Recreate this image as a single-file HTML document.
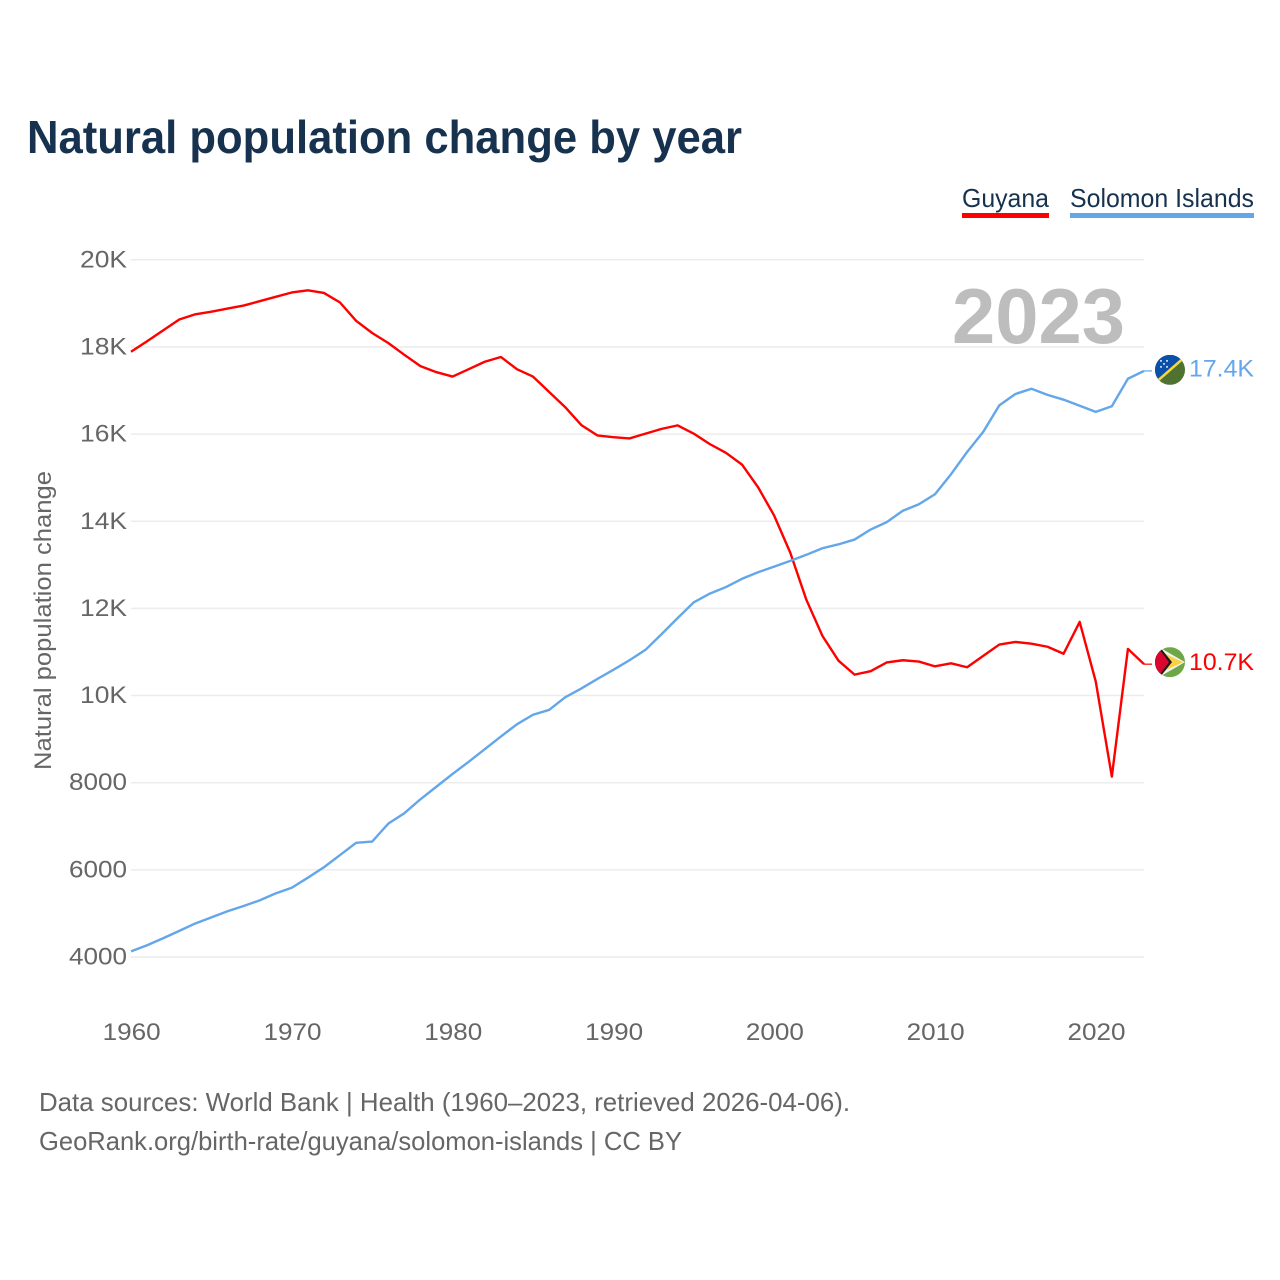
<!DOCTYPE html>
<html lang="en">
<head>
<meta charset="utf-8">
<title>Natural population change by year</title>
<style>
html,body{margin:0;padding:0;background:#fff;width:1280px;height:1280px;overflow:hidden}
svg{display:block}
text{font-family:"Liberation Sans",sans-serif}
</style>
</head>
<body>
<svg id="chart" xmlns="http://www.w3.org/2000/svg" width="1280" height="1280" viewBox="0 0 1280 1280">
  <defs>
    <clipPath id="flag-clip"><circle cx="0" cy="0" r="15"/></clipPath>
  </defs>
  <rect x="0" y="0" width="1280" height="1280" fill="#fff"/>
  <text x="27" y="153" font-size="46" font-weight="700" fill="#17324f" textLength="715" lengthAdjust="spacingAndGlyphs">Natural population change by year</text>

  <g>
    <g>
      <text x="962" y="207" font-size="26" fill="#17324f" textLength="87" lengthAdjust="spacingAndGlyphs">Guyana</text>
      <rect x="962" y="213" width="87" height="5" fill="#ff0000"/>
    </g>
    <g>
      <text x="1070" y="207" font-size="26" fill="#17324f" textLength="184" lengthAdjust="spacingAndGlyphs">Solomon Islands</text>
      <rect x="1070" y="213" width="184" height="5" fill="#63a6ea"/>
    </g>
  </g>

  <g id="grid"></g>
  <g id="y-axis"></g>
  <g id="x-axis"></g>

  <text transform="translate(51 770) rotate(-90)" x="0" y="0" font-size="24" fill="#666" textLength="299" lengthAdjust="spacingAndGlyphs">Natural population change</text>
  <text x="952" y="343" font-size="78" font-weight="700" fill="#bdbdbd" textLength="173" lengthAdjust="spacingAndGlyphs">2023</text>

  <g id="series"></g>

  <g id="flag-solomon">
    <g clip-path="url(#flag-clip)">
      <rect x="-15" y="-15" width="30" height="30" fill="#4f7230"/>
      <polygon points="-15,-15 15,-15 -15,15" fill="#0b50a8"/>
      <line x1="-16" y1="14" x2="16" y2="-14" stroke="#f5d63d" stroke-width="2.6"/>
      <circle cx="-9" cy="-9" r="1" fill="#dfe8f5"/>
      <circle cx="-3" cy="-9" r="1" fill="#dfe8f5"/>
      <circle cx="-6" cy="-6" r="1" fill="#dfe8f5"/>
      <circle cx="-9" cy="-3" r="1" fill="#dfe8f5"/>
      <circle cx="-3" cy="-3" r="1" fill="#dfe8f5"/>
    </g>
  </g>
  <g id="flag-guyana">
    <g clip-path="url(#flag-clip)">
      <rect x="-15" y="-15" width="30" height="30" fill="#6ea746"/>
      <polygon points="-15,-15 -11,-15 15,0 -11,15 -15,15" fill="#f2f2ee"/>
      <polygon points="-15,-13 13,0 -15,13" fill="#fbd044"/>
      <polygon points="-15,-15 -10,-15 2,0 -10,15 -15,15" fill="#1a1a1a"/>
      <polygon points="-15,-12 -10,-12 -1,0 -10,12 -15,12" fill="#d9072f"/>
    </g>
  </g>

  <g>
    <text x="39" y="1111" font-size="26" fill="#666" textLength="811" lengthAdjust="spacingAndGlyphs">Data sources: World Bank | Health (1960–2023, retrieved 2026-04-06).</text>
    <text x="39" y="1150" font-size="26" fill="#666" textLength="643" lengthAdjust="spacingAndGlyphs">GeoRank.org/birth-rate/guyana/solomon-islands | CC BY</text>
  </g>
</svg>

<script>
var years = [1960,1961,1962,1963,1964,1965,1966,1967,1968,1969,1970,1971,1972,1973,1974,1975,1976,1977,1978,1979,1980,1981,1982,1983,1984,1985,1986,1987,1988,1989,1990,1991,1992,1993,1994,1995,1996,1997,1998,1999,2000,2001,2002,2003,2004,2005,2006,2007,2008,2009,2010,2011,2012,2013,2014,2015,2016,2017,2018,2019,2020,2021,2022,2023];
var guyanaValues = [17890,18130,18380,18630,18750,18810,18880,18950,19050,19150,19250,19300,19240,19020,18600,18320,18090,17820,17560,17420,17320,17490,17660,17770,17490,17320,16970,16620,16210,15970,15930,15900,16010,16120,16200,16010,15770,15570,15300,14780,14130,13280,12200,11370,10800,10480,10560,10760,10810,10780,10670,10740,10650,10910,11170,11230,11190,11120,10960,11690,10320,8140,11070,10720];
var solomonValues = [4130,4270,4430,4600,4770,4910,5050,5170,5300,5460,5590,5820,6060,6340,6620,6650,7060,7300,7620,7910,8200,8480,8770,9060,9340,9560,9670,9960,10160,10380,10590,10810,11050,11410,11780,12140,12340,12490,12680,12830,12960,13090,13230,13380,13470,13580,13810,13980,14240,14390,14620,15080,15590,16050,16660,16920,17040,16900,16790,16650,16510,16640,17270,17450];
var yTickValues = [4000,6000,8000,10000,12000,14000,16000,18000,20000];
var yTickLabels = ["4000","6000","8000","10K","12K","14K","16K","18K","20K"];
var xTickValues = [1960,1970,1980,1990,2000,2010,2020];

var NS = "http://www.w3.org/2000/svg";
function xScale(year) { return 131 + (year - 1960) * (1144 - 131) / 63; }
function yScale(value) { return 957 - (value - 4000) * (957 - 259.8) / 16000; }
function make(tag, attrs, parent, txt) {
  var el = document.createElementNS(NS, tag);
  for (var k in attrs) { el.setAttribute(k, attrs[k]); }
  if (txt !== undefined) { el.textContent = txt; }
  parent.appendChild(el);
  return el;
}
function formatK(v) { return v >= 10000 ? (v / 1000).toFixed(1) + "K" : String(Math.round(v)); }

var gridG = document.getElementById("grid");
var yG = document.getElementById("y-axis");
var xG = document.getElementById("x-axis");
var seriesG = document.getElementById("series");
var svgRoot = document.getElementById("chart");

yTickValues.forEach(function (v, i) {
  var line = make("line", {x1: 131, x2: 1144, y1: yScale(v), y2: yScale(v), stroke: "#ececec", "stroke-width": 1.5}, gridG);
  
  
  var label = yTickLabels[i];
  var t = make("text", {x: 127, y: yScale(v) + 7.5, "font-size": 24, fill: "#666", "text-anchor": "end", textLength: label.length === 4 ? 58 : 47, lengthAdjust: "spacingAndGlyphs"}, yG, label);
  
  
});

xTickValues.forEach(function (yr) {
  var t = make("text", {x: xScale(yr) + 0.7, y: 1040, "font-size": 24, fill: "#666", "text-anchor": "middle", textLength: 58, lengthAdjust: "spacingAndGlyphs"}, xG, String(yr));
  
  
});

function pathFor(values) {
  return values.map(function (v, i) {
    return (i ? "L" : "M") + xScale(years[i]).toFixed(2) + " " + yScale(v).toFixed(2);
  }).join(" ");
}

var lineGuyana = make("path", {d: pathFor(guyanaValues), fill: "none", stroke: "#ff0000", "stroke-width": 2.4, "stroke-linejoin": "round"}, seriesG);



var lineSolomon = make("path", {d: pathFor(solomonValues), fill: "none", stroke: "#63a6ea", "stroke-width": 2.4, "stroke-linejoin": "round"}, seriesG);



var lastG = guyanaValues[guyanaValues.length - 1];
var lastS = solomonValues[solomonValues.length - 1];
var endX = xScale(years[years.length - 1]);

var connG = make("line", {x1: endX, x2: endX + 8, y1: yScale(lastG), y2: yScale(lastG), stroke: "#ff0000", "stroke-width": 1.2}, seriesG);



var connS = make("line", {x1: endX, x2: endX + 8, y1: yScale(lastS), y2: yScale(lastS), stroke: "#63a6ea", "stroke-width": 1.2}, seriesG);



document.getElementById("flag-guyana").setAttribute("transform", "translate(1170 " + (yScale(lastG) - 2) + ")");
document.getElementById("flag-solomon").setAttribute("transform", "translate(1170 " + (yScale(lastS) - 1) + ")");

var labelG = make("text", {x: 1254, y: yScale(lastG) + 6, "font-size": 24, fill: "#ff0000", "text-anchor": "end", textLength: 65, lengthAdjust: "spacingAndGlyphs"}, svgRoot, formatK(lastG));



var labelS = make("text", {x: 1254, y: yScale(lastS) + 5.5, "font-size": 24, fill: "#63a6ea", "text-anchor": "end", textLength: 65, lengthAdjust: "spacingAndGlyphs"}, svgRoot, formatK(lastS));


</script>
</body>
</html>
